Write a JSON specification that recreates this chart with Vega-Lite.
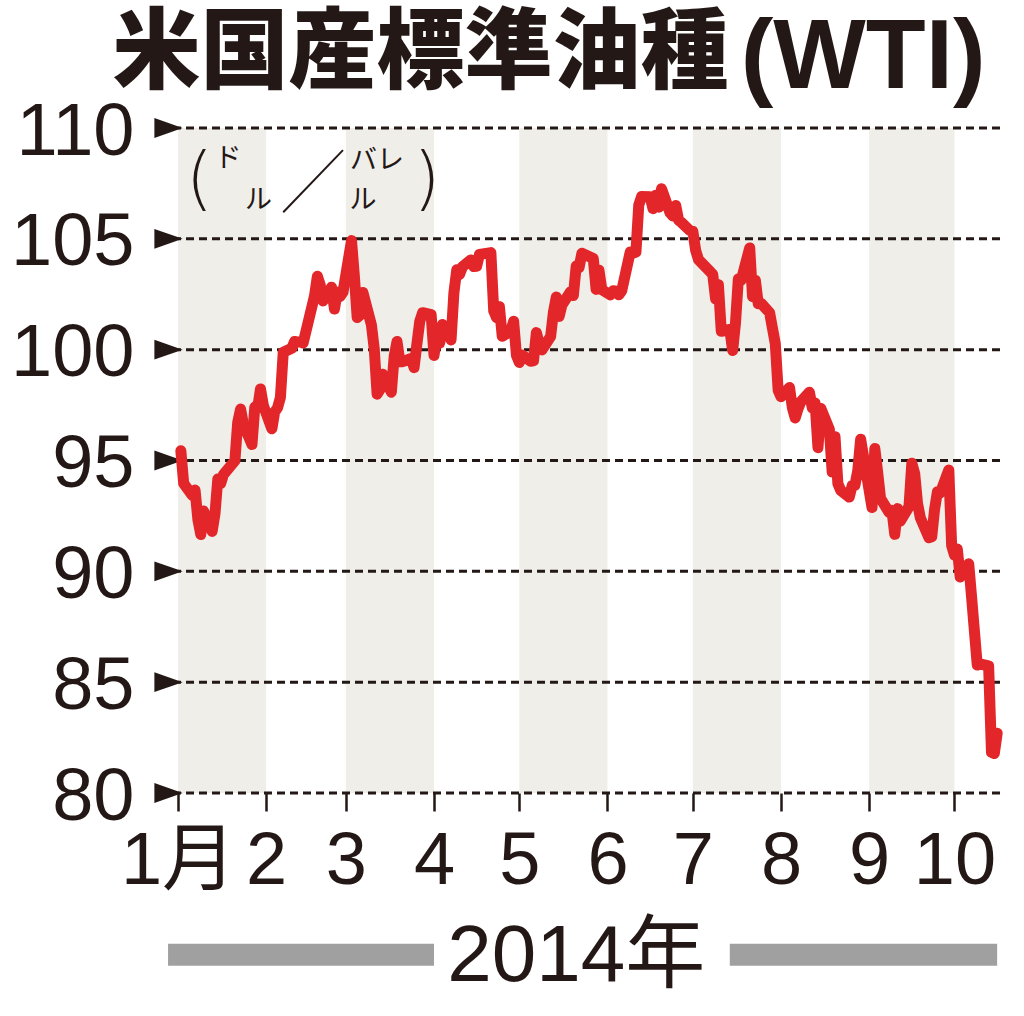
{
  "$schema": "https://vega.github.io/schema/vega-lite/v6.json",
  "autosize": "none",
  "padding": {"left": 178, "top": 128, "right": 24, "bottom": 223},
  "width": 822,
  "height": 665,
  "background": "white",
  "config": {
    "view": {"stroke": null},
    "axis": {
      "labelFont": "Liberation Sans, Noto Sans CJK JP",
      "labelColor": "#231815",
      "labelFontSize": 74,
      "labelFlush": false,
      "labelBound": false,
      "labelOverlap": false,
      "domain": false,
      "grid": false,
      "title": null
    }
  },
  "datasets": {
    "wti": [
      {"date": "2014-01-02", "price": 95.44}, {"date": "2014-01-03", "price": 93.96},
      {"date": "2014-01-06", "price": 93.43}, {"date": "2014-01-07", "price": 93.67},
      {"date": "2014-01-08", "price": 92.33}, {"date": "2014-01-09", "price": 91.66},
      {"date": "2014-01-10", "price": 92.72}, {"date": "2014-01-13", "price": 91.8},
      {"date": "2014-01-14", "price": 92.59}, {"date": "2014-01-15", "price": 94.17},
      {"date": "2014-01-16", "price": 93.96}, {"date": "2014-01-17", "price": 94.37},
      {"date": "2014-01-21", "price": 94.99}, {"date": "2014-01-22", "price": 96.73},
      {"date": "2014-01-23", "price": 97.32}, {"date": "2014-01-24", "price": 96.64},
      {"date": "2014-01-27", "price": 95.72}, {"date": "2014-01-28", "price": 97.41},
      {"date": "2014-01-29", "price": 97.36}, {"date": "2014-01-30", "price": 98.23},
      {"date": "2014-01-31", "price": 97.49},
      {"date": "2014-02-03", "price": 96.43}, {"date": "2014-02-04", "price": 97.19},
      {"date": "2014-02-05", "price": 97.38}, {"date": "2014-02-06", "price": 97.84},
      {"date": "2014-02-07", "price": 99.88}, {"date": "2014-02-10", "price": 100.06},
      {"date": "2014-02-11", "price": 100.37}, {"date": "2014-02-12", "price": 100.35},
      {"date": "2014-02-13", "price": 100.35}, {"date": "2014-02-14", "price": 100.3},
      {"date": "2014-02-18", "price": 102.43}, {"date": "2014-02-19", "price": 103.31},
      {"date": "2014-02-20", "price": 102.92}, {"date": "2014-02-21", "price": 102.2},
      {"date": "2014-02-24", "price": 102.82}, {"date": "2014-02-25", "price": 101.83},
      {"date": "2014-02-26", "price": 102.59}, {"date": "2014-02-27", "price": 102.4},
      {"date": "2014-02-28", "price": 102.59},
      {"date": "2014-03-03", "price": 104.92}, {"date": "2014-03-04", "price": 103.33},
      {"date": "2014-03-05", "price": 101.45}, {"date": "2014-03-06", "price": 101.56},
      {"date": "2014-03-07", "price": 102.58}, {"date": "2014-03-10", "price": 101.12},
      {"date": "2014-03-11", "price": 100.03}, {"date": "2014-03-12", "price": 97.99},
      {"date": "2014-03-13", "price": 98.2}, {"date": "2014-03-14", "price": 98.89},
      {"date": "2014-03-17", "price": 98.08}, {"date": "2014-03-18", "price": 99.7},
      {"date": "2014-03-19", "price": 100.37}, {"date": "2014-03-20", "price": 99.46},
      {"date": "2014-03-21", "price": 99.46}, {"date": "2014-03-24", "price": 99.6},
      {"date": "2014-03-25", "price": 99.19}, {"date": "2014-03-26", "price": 100.26},
      {"date": "2014-03-27", "price": 101.28}, {"date": "2014-03-28", "price": 101.67},
      {"date": "2014-03-31", "price": 101.58},
      {"date": "2014-04-01", "price": 99.74}, {"date": "2014-04-02", "price": 100.62},
      {"date": "2014-04-03", "price": 100.29}, {"date": "2014-04-04", "price": 101.14},
      {"date": "2014-04-07", "price": 100.44}, {"date": "2014-04-08", "price": 102.56},
      {"date": "2014-04-09", "price": 103.6}, {"date": "2014-04-10", "price": 103.4},
      {"date": "2014-04-11", "price": 103.74}, {"date": "2014-04-14", "price": 104.05},
      {"date": "2014-04-15", "price": 103.75}, {"date": "2014-04-16", "price": 103.76},
      {"date": "2014-04-17", "price": 104.3}, {"date": "2014-04-21", "price": 104.38},
      {"date": "2014-04-22", "price": 101.75}, {"date": "2014-04-23", "price": 101.44},
      {"date": "2014-04-24", "price": 101.94}, {"date": "2014-04-25", "price": 100.6},
      {"date": "2014-04-28", "price": 100.84}, {"date": "2014-04-29", "price": 101.28},
      {"date": "2014-04-30", "price": 99.74},
      {"date": "2014-05-01", "price": 99.42}, {"date": "2014-05-02", "price": 99.76},
      {"date": "2014-05-05", "price": 99.48}, {"date": "2014-05-06", "price": 99.5},
      {"date": "2014-05-07", "price": 100.77}, {"date": "2014-05-08", "price": 100.26},
      {"date": "2014-05-09", "price": 99.99}, {"date": "2014-05-12", "price": 100.59},
      {"date": "2014-05-13", "price": 101.7}, {"date": "2014-05-14", "price": 102.37},
      {"date": "2014-05-15", "price": 101.5}, {"date": "2014-05-16", "price": 102.02},
      {"date": "2014-05-19", "price": 102.61}, {"date": "2014-05-20", "price": 102.44},
      {"date": "2014-05-21", "price": 103.77}, {"date": "2014-05-22", "price": 103.7},
      {"date": "2014-05-23", "price": 104.35}, {"date": "2014-05-27", "price": 104.11},
      {"date": "2014-05-28", "price": 102.72}, {"date": "2014-05-29", "price": 103.58},
      {"date": "2014-05-30", "price": 102.71},
      {"date": "2014-06-02", "price": 102.47}, {"date": "2014-06-03", "price": 102.66},
      {"date": "2014-06-04", "price": 102.64}, {"date": "2014-06-05", "price": 102.48},
      {"date": "2014-06-06", "price": 102.66}, {"date": "2014-06-09", "price": 104.41},
      {"date": "2014-06-10", "price": 104.35}, {"date": "2014-06-11", "price": 104.4},
      {"date": "2014-06-12", "price": 106.53}, {"date": "2014-06-13", "price": 106.91},
      {"date": "2014-06-16", "price": 106.9}, {"date": "2014-06-17", "price": 106.36},
      {"date": "2014-06-18", "price": 106.97}, {"date": "2014-06-19", "price": 106.43},
      {"date": "2014-06-20", "price": 107.26}, {"date": "2014-06-23", "price": 106.17},
      {"date": "2014-06-24", "price": 106.03}, {"date": "2014-06-25", "price": 106.5},
      {"date": "2014-06-26", "price": 105.84}, {"date": "2014-06-27", "price": 105.74},
      {"date": "2014-06-30", "price": 105.37},
      {"date": "2014-07-01", "price": 105.34}, {"date": "2014-07-02", "price": 104.48},
      {"date": "2014-07-03", "price": 104.06}, {"date": "2014-07-07", "price": 103.53},
      {"date": "2014-07-08", "price": 103.4}, {"date": "2014-07-09", "price": 102.29},
      {"date": "2014-07-10", "price": 102.93}, {"date": "2014-07-11", "price": 100.83},
      {"date": "2014-07-14", "price": 100.91}, {"date": "2014-07-15", "price": 99.96},
      {"date": "2014-07-16", "price": 101.2}, {"date": "2014-07-17", "price": 103.19},
      {"date": "2014-07-18", "price": 103.13}, {"date": "2014-07-21", "price": 104.59},
      {"date": "2014-07-22", "price": 102.39}, {"date": "2014-07-23", "price": 103.12},
      {"date": "2014-07-24", "price": 102.07}, {"date": "2014-07-25", "price": 102.09},
      {"date": "2014-07-28", "price": 101.67}, {"date": "2014-07-29", "price": 100.97},
      {"date": "2014-07-30", "price": 100.27}, {"date": "2014-07-31", "price": 98.17},
      {"date": "2014-08-01", "price": 97.88}, {"date": "2014-08-04", "price": 98.29},
      {"date": "2014-08-05", "price": 97.38}, {"date": "2014-08-06", "price": 96.92},
      {"date": "2014-08-07", "price": 97.34}, {"date": "2014-08-08", "price": 97.65},
      {"date": "2014-08-11", "price": 98.08}, {"date": "2014-08-12", "price": 97.37},
      {"date": "2014-08-13", "price": 97.59}, {"date": "2014-08-14", "price": 95.58},
      {"date": "2014-08-15", "price": 97.35}, {"date": "2014-08-18", "price": 96.41},
      {"date": "2014-08-19", "price": 94.48}, {"date": "2014-08-20", "price": 96.07},
      {"date": "2014-08-21", "price": 93.96}, {"date": "2014-08-22", "price": 93.65},
      {"date": "2014-08-25", "price": 93.35}, {"date": "2014-08-26", "price": 93.86},
      {"date": "2014-08-27", "price": 93.88}, {"date": "2014-08-28", "price": 94.55},
      {"date": "2014-08-29", "price": 95.96},
      {"date": "2014-09-02", "price": 92.88}, {"date": "2014-09-03", "price": 95.54},
      {"date": "2014-09-04", "price": 94.45}, {"date": "2014-09-05", "price": 93.29},
      {"date": "2014-09-08", "price": 92.66}, {"date": "2014-09-09", "price": 92.75},
      {"date": "2014-09-10", "price": 91.67}, {"date": "2014-09-11", "price": 92.83},
      {"date": "2014-09-12", "price": 92.27}, {"date": "2014-09-15", "price": 92.92},
      {"date": "2014-09-16", "price": 94.88}, {"date": "2014-09-17", "price": 94.42},
      {"date": "2014-09-18", "price": 93.07}, {"date": "2014-09-19", "price": 92.41},
      {"date": "2014-09-22", "price": 91.52}, {"date": "2014-09-23", "price": 91.56},
      {"date": "2014-09-24", "price": 92.8}, {"date": "2014-09-25", "price": 93.59},
      {"date": "2014-09-26", "price": 93.54}, {"date": "2014-09-29", "price": 94.57},
      {"date": "2014-09-30", "price": 91.16},
      {"date": "2014-10-01", "price": 90.73}, {"date": "2014-10-02", "price": 91.01},
      {"date": "2014-10-03", "price": 89.74}, {"date": "2014-10-06", "price": 90.34},
      {"date": "2014-10-07", "price": 88.85}, {"date": "2014-10-08", "price": 87.31},
      {"date": "2014-10-09", "price": 85.77}, {"date": "2014-10-10", "price": 85.82},
      {"date": "2014-10-13", "price": 85.74}, {"date": "2014-10-14", "price": 81.84},
      {"date": "2014-10-15", "price": 81.78}, {"date": "2014-10-16", "price": 82.7}
    ],
    "bands": [
      {"start": "2014-01-01", "end": "2014-02-01"},
      {"start": "2014-03-01", "end": "2014-04-01"},
      {"start": "2014-05-01", "end": "2014-06-01"},
      {"start": "2014-07-01", "end": "2014-08-01"},
      {"start": "2014-09-01", "end": "2014-10-01"}
    ],
    "gridlines": [
      {"v": 80}, {"v": 85}, {"v": 90}, {"v": 95}, {"v": 100}, {"v": 105}, {"v": 110}
    ]
  },
  "encoding": {
    "x": {
      "type": "temporal",
      "scale": {
        "type": "utc",
        "domain": [
          {"year": 2014, "month": 1, "date": 1, "utc": true},
          {"year": 2014, "month": 10, "date": 17, "utc": true}
        ]
      }
    },
    "y": {
      "type": "quantitative",
      "scale": {"domain": [80, 110], "nice": false, "zero": false}
    }
  },
  "layer": [
    {
      "data": {"name": "bands"},
      "mark": {"type": "rect", "color": "#efeee9"},
      "encoding": {
        "x": {
          "field": "start",
          "type": "temporal",
          "axis": {
            "tickCount": {"interval": "month", "step": 1},
            "ticks": true,
            "tickSize": 18,
            "tickWidth": 2.5,
            "tickColor": "#231815",
            "labelPadding": 14,
            "labelExpr": "utcmonth(datum.value) == 0 ? '1月' : '' + (utcmonth(datum.value) + 1)"
          }
        },
        "x2": {"field": "end"}
      }
    },
    {
      "data": {"name": "gridlines"},
      "mark": {"type": "rule", "color": "#231815", "strokeWidth": 3, "strokeDash": [8, 5]},
      "encoding": {
        "y": {
          "field": "v",
          "type": "quantitative",
          "axis": {
            "values": [80, 85, 90, 95, 100, 105, 110],
            "ticks": false,
            "labelPadding": 44,
            "labelOffset": 4
          }
        }
      }
    },
    {
      "data": {"name": "gridlines"},
      "mark": {
        "type": "point",
        "shape": "M-1,-0.7L1,0L-1,0.7Z",
        "size": 800,
        "filled": true,
        "opacity": 1,
        "color": "#231815",
        "xOffset": -9.5
      },
      "encoding": {
        "x": {"datum": {"year": 2014, "month": 1, "date": 1, "utc": true}},
        "y": {"field": "v", "type": "quantitative"}
      }
    },
    {
      "data": {"name": "wti"},
      "mark": {
        "type": "line",
        "color": "#e3262a",
        "strokeWidth": 11,
        "strokeJoin": "round",
        "strokeCap": "round"
      },
      "encoding": {
        "x": {"field": "date", "type": "temporal"},
        "y": {"field": "price", "type": "quantitative"}
      }
    },
    {
      "data": {"values": [{}]},
      "layer": [
        {
          "mark": {"type": "text", "text": "米国産標準油種", "font": "Noto Sans CJK JP", "fontSize": 88, "fontWeight": 900, "align": "left", "baseline": "middle", "color": "#231815"},
          "encoding": {
            "x": {"datum": {"year": 2013, "month": 12, "date": 9, "utc": true}},
            "y": {"datum": 113.29}
          }
        },
        {
          "mark": {"type": "text", "text": "(WTI)", "font": "Liberation Sans", "fontSize": 98, "fontWeight": "bold", "align": "left", "baseline": "alphabetic", "color": "#231815"},
          "encoding": {
            "x": {"datum": {"year": 2014, "month": 7, "date": 17, "hours": 20, "utc": true}},
            "y": {"datum": 111.8}
          }
        },
        {
          "mark": {"type": "text", "text": "(", "font": "DejaVu Sans", "fontWeight": 200, "fontSize": 70, "baseline": "middle", "color": "#231815"},
          "encoding": {
            "x": {"datum": {"year": 2014, "month": 1, "date": 8, "hours": 12, "utc": true}},
            "y": {"datum": 107.6}
          }
        },
        {
          "mark": {"type": "text", "text": ")", "font": "DejaVu Sans", "fontWeight": 200, "fontSize": 70, "baseline": "middle", "color": "#231815"},
          "encoding": {
            "x": {"datum": {"year": 2014, "month": 3, "date": 29, "hours": 12, "utc": true}},
            "y": {"datum": 107.6}
          }
        },
        {
          "mark": {"type": "text", "text": "ド", "font": "Noto Sans CJK JP", "fontSize": 27, "baseline": "middle", "color": "#231815"},
          "encoding": {
            "x": {"datum": {"year": 2014, "month": 1, "date": 18, "hours": 14, "utc": true}},
            "y": {"datum": 108.6}
          }
        },
        {
          "mark": {"type": "text", "text": "ル", "font": "Noto Sans CJK JP", "fontSize": 27, "baseline": "middle", "color": "#231815"},
          "encoding": {
            "x": {"datum": {"year": 2014, "month": 1, "date": 29, "hours": 7, "utc": true}},
            "y": {"datum": 106.7}
          }
        },
        {
          "mark": {"type": "text", "text": "バレ", "font": "Noto Sans CJK JP", "fontSize": 27, "baseline": "middle", "color": "#231815"},
          "encoding": {
            "x": {"datum": {"year": 2014, "month": 3, "date": 12, "utc": true}},
            "y": {"datum": 108.5}
          }
        },
        {
          "mark": {"type": "text", "text": "ル", "font": "Noto Sans CJK JP", "fontSize": 27, "baseline": "middle", "color": "#231815"},
          "encoding": {
            "x": {"datum": {"year": 2014, "month": 3, "date": 7, "utc": true}},
            "y": {"datum": 106.7}
          }
        },
        {
          "mark": {"type": "rule", "color": "#231815", "strokeWidth": 2},
          "encoding": {
            "x": {"datum": {"year": 2014, "month": 2, "date": 7, "utc": true}},
            "x2": {"datum": {"year": 2014, "month": 2, "date": 28, "utc": true}},
            "y": {"datum": 106.2},
            "y2": {"datum": 109.0}
          }
        },
        {
          "mark": {"type": "rule", "color": "#a0a0a0", "strokeWidth": 22, "strokeCap": "butt"},
          "encoding": {
            "x": {"datum": {"year": 2013, "month": 12, "date": 28, "hours": 12, "utc": true}},
            "x2": {"datum": {"year": 2014, "month": 4, "date": 1, "utc": true}},
            "y": {"datum": 72.7}
          }
        },
        {
          "mark": {"type": "rule", "color": "#a0a0a0", "strokeWidth": 22, "strokeCap": "butt"},
          "encoding": {
            "x": {"datum": {"year": 2014, "month": 7, "date": 14, "utc": true}},
            "x2": {"datum": {"year": 2014, "month": 10, "date": 16, "utc": true}},
            "y": {"datum": 72.7}
          }
        },
        {
          "mark": {"type": "text", "text": "2014年", "font": "Liberation Sans, Noto Sans CJK JP", "fontSize": 80, "baseline": "middle", "color": "#231815"},
          "encoding": {
            "x": {"datum": {"year": 2014, "month": 5, "date": 21, "utc": true}},
            "y": {"datum": 72.6}
          }
        }
      ]
    }
  ]
}
